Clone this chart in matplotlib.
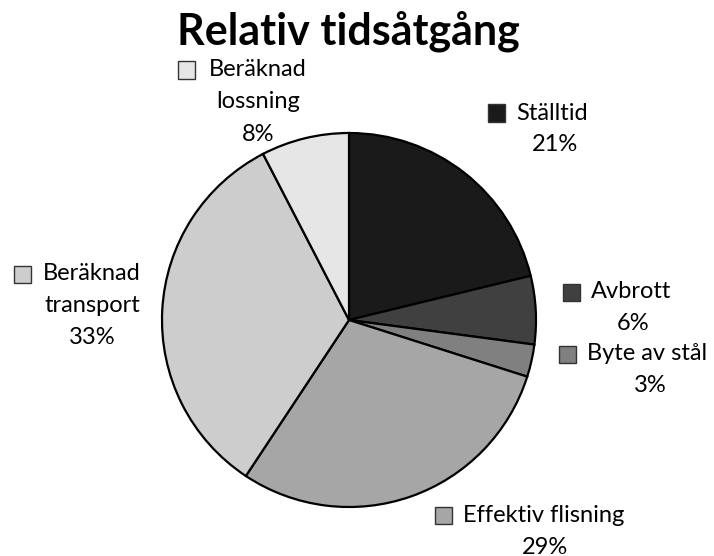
import matplotlib.pyplot as plt
from matplotlib.patches import Rectangle

plt.rcParams['font.family'] = ['Lato', 'DejaVu Sans']

# data
names = ['Ställtid', 'Avbrott', 'Byte av stål', 'Effektiv flisning',
         'Beräknad transport', 'Beräknad lossning']
label_text = ['Ställtid', 'Avbrott', 'Byte av stål', 'Effektiv flisning',
              'Beräknad\ntransport', 'Beräknad\nlossning']
shares = [21.2, 5.9, 2.8, 29.4, 33.1, 7.6]
colors = ['#1a1a1a', '#404040', '#808080', '#a6a6a6', '#cdcdcd', '#e6e6e6']

W, H = 714, 556
fig = plt.figure(figsize=(W / 100, H / 100), dpi=100)

# pie centre (349, 320) px, radius 187 px
cx, cy, r = 349, 320, 187
ax = fig.add_axes([(cx - r) / W, (H - cy - r) / H, 2 * r / W, 2 * r / H])
ax.pie(shares, colors=colors, startangle=90, counterclock=False,
       wedgeprops=dict(edgecolor='black', linewidth=1.6))
ax.set_xlim(-1, 1)
ax.set_ylim(-1, 1)
ax.set_aspect('equal')
ax.axis('off')

def fx(x):
    return x / W

def fy(y):
    return 1 - y / H

fig.text(fx(348), fy(44), 'Relativ tidsåtgång', ha='center', va='baseline',
         fontsize=31, fontweight='bold')

# label layout: (text centre x, first line centre y, square left x) in pixels
layout = [
    (555, 113, 488),
    (633, 292, 563),
    (650, 354, 559),
    (545, 515, 435),
    (92, 274, 14),
    (258, 70, 178),
]
line_h = 32
sq = 17

for name, txt, p, c, (x, y, sx) in zip(names, label_text, shares, colors, layout):
    lines = txt.split('\n') + ['%.0f%%' % p]
    for i, ln in enumerate(lines):
        if i == 0 and len(lines) == 2:
            # single-name label: first line starts right of square
            fig.text(fx(sx + sq + 11), fy(y), ln, ha='left', va='center',
                     fontsize=17)
            continue
        fig.text(fx(x), fy(y + i * line_h), ln, ha='center', va='center',
                 fontsize=17)
    fig.patches.append(Rectangle((fx(sx), fy(y + sq / 2)), sq / W, sq / H,
                                 transform=fig.transFigure, figure=fig,
                                 facecolor=c, edgecolor='#333333',
                                 linewidth=1.0))

fig.savefig('out.png', dpi=100)
